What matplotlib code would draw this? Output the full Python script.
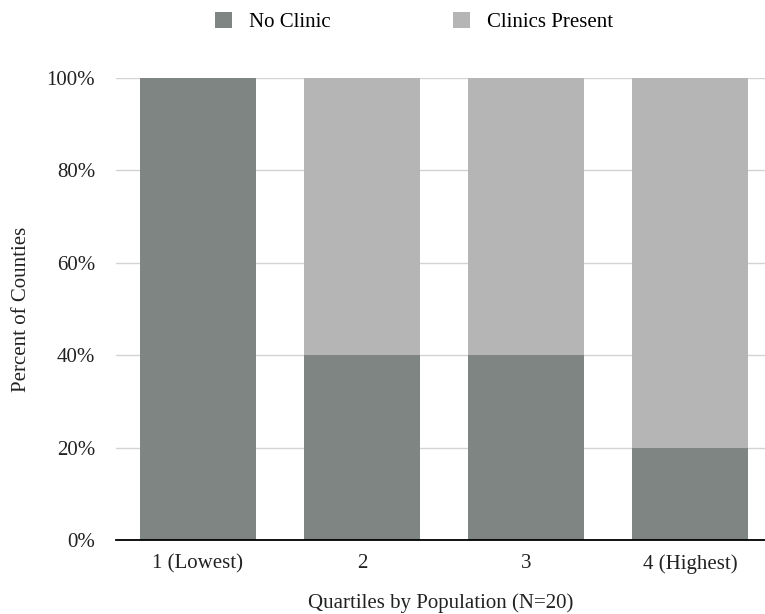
import matplotlib
matplotlib.use("Agg")
import matplotlib.pyplot as plt
import numpy as np
from matplotlib.ticker import FuncFormatter

categories = ["1 (Lowest)", "2", "3", "4 (Highest)"]
no_clinic = [100, 40, 40, 20]
clinics_present = [0, 60, 60, 80]

dark = "#7f8582"
light = "#b5b5b5"

plt.rcParams['font.family'] = ['Liberation Serif', 'DejaVu Serif']

fig = plt.figure(figsize=(7.65, 6.14), dpi=100)
ax = fig.add_axes([116/765, 1-540/614, 1-116/765, (540-78)/614])

x = np.arange(len(categories))
b1 = ax.bar(x, no_clinic, width=0.713, color=dark, label="No Clinic", zorder=2)
b2 = ax.bar(x, clinics_present, width=0.713, bottom=no_clinic, color=light,
            label="Clinics Present", zorder=2)

ax.set_ylim(0, 100)
ax.set_xlim(-0.5, -0.5 + 649/164)
ax.set_yticks([0, 20, 40, 60, 80, 100])
ax.yaxis.set_major_formatter(FuncFormatter(lambda v, p: f"{int(v)}%"))
ax.set_xticks(x)
ax.set_xticklabels(categories)
ax.grid(axis='y', color='#d3d3d3', linewidth=1, zorder=0)
ax.set_axisbelow(True)
for s in ['top', 'right', 'left']:
    ax.spines[s].set_visible(False)
ax.spines['bottom'].set_color('black')
ax.spines['bottom'].set_linewidth(1.3)
ax.spines['bottom'].set_zorder(3)
ax.tick_params(axis='both', length=0, labelsize=15, colors='#222222')
ax.tick_params(axis='x', pad=10)
ax.tick_params(axis='y', pad=15)

ax.set_xlabel("Quartiles by Population (N=20)", fontsize=15, color='#222222', labelpad=14)
ax.set_ylabel("Percent of Counties", fontsize=15, color='#222222', labelpad=11)

fig.legend(handles=[b1, b2], loc='center', bbox_to_anchor=(414/765, 1-22/614),
           ncol=2, frameon=False, fontsize=15, handlelength=0.8, handleheight=0.8,
           columnspacing=5.9, handletextpad=0.8)

fig.savefig("out.png", dpi=100)
